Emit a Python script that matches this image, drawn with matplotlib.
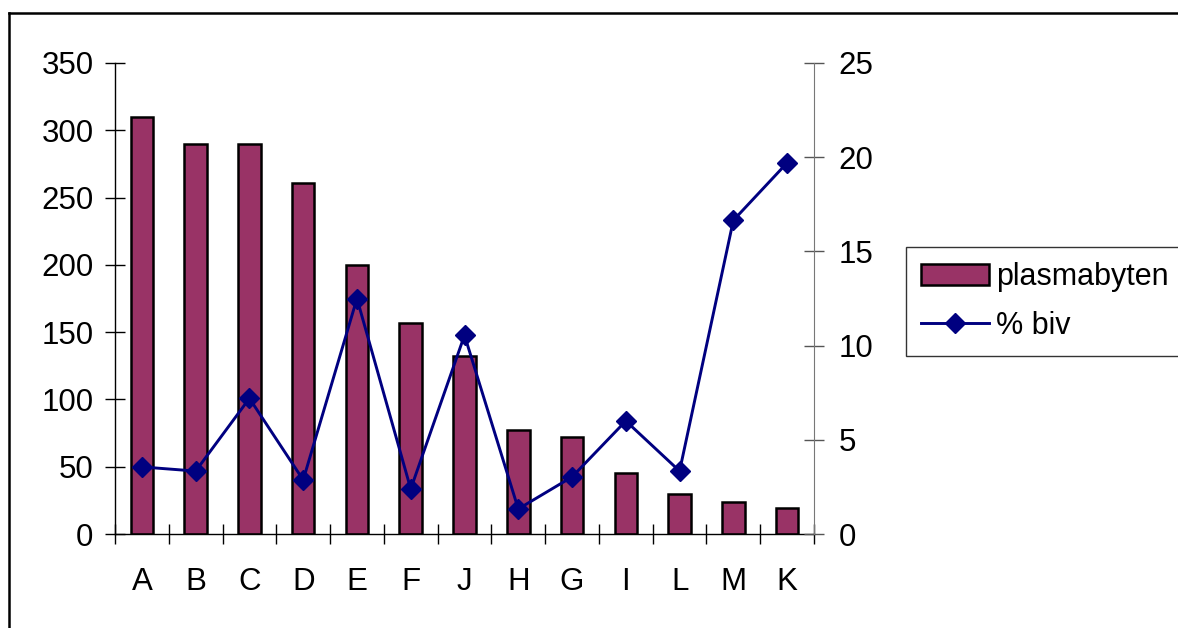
import numpy as np
import matplotlib.pyplot as plt
from matplotlib.lines import Line2D
from matplotlib.patches import Patch

plt.rcParams['font.family'] = ['Liberation Sans', 'DejaVu Sans']

# Data
categories = ['A', 'B', 'C', 'D', 'E', 'F', 'J', 'H', 'G', 'I', 'L', 'M', 'K']
plasmabyten = [310, 290, 290, 261, 200, 157, 132, 77, 72, 45, 30, 24, 19]
pct_biv = [3.56, 3.34, 7.2, 2.87, 12.5, 2.39, 10.55, 1.33, 3.03, 6.0, 3.34, 16.65, 19.7]

bar_color = '#993366'
line_color = '#000080'

fig = plt.figure(figsize=(11.78, 6.28), dpi=100)
ax = fig.add_axes([115 / 1178, 1 - 534 / 628, 699 / 1178, 471 / 628])
ax2 = ax.twinx()

x = np.arange(len(categories))
ax.bar(x, plasmabyten, width=0.42, color=bar_color, edgecolor='black', linewidth=1.8, zorder=2)
ax2.plot(x, pct_biv, color=line_color, linewidth=2.1, marker='D', markersize=10, zorder=3)

ax.set_xlim(-0.5, len(categories) - 0.5)
ax.set_ylim(0, 350)
ax2.set_ylim(0, 25)
ax.set_yticks(np.arange(0, 351, 50))
ax2.set_yticks(np.arange(0, 26, 5))

# category labels centered, tick marks between categories
ax.set_xticks(x)
ax.set_xticklabels(categories)
ax.set_xticks(np.arange(-0.5, len(categories), 1), minor=True)
ax.tick_params(axis='x', which='major', length=0, pad=24, labelsize=22.5)
ax.tick_params(axis='x', which='minor', direction='inout', length=14, width=1)
ax.tick_params(axis='y', direction='inout', length=15, width=1, pad=8, labelsize=22.5)
ax2.tick_params(axis='y', direction='inout', length=15, width=1, pad=10, labelsize=22.5,
                color='#555555')

for a in (ax, ax2):
    a.spines['top'].set_visible(False)
ax.spines['right'].set_visible(False)
ax2.spines['left'].set_visible(False)
ax2.spines['bottom'].set_visible(False)
ax2.spines['right'].set_color('#777777')
ax.spines['left'].set_linewidth(1)
ax.spines['bottom'].set_linewidth(1)
ax.set_zorder(ax2.get_zorder() - 1)
ax2.patch.set_visible(False)
ax.patch.set_visible(False)

handles = [
    Patch(facecolor=bar_color, edgecolor='black', linewidth=1.8, label='plasmabyten'),
    Line2D([0], [0], color=line_color, linewidth=2.1, marker='D', markersize=10, label='% biv'),
]
leg = fig.legend(handles=handles, loc='upper left', bbox_to_anchor=(906 / 1178, 1 - 247 / 628),
                 frameon=True, fancybox=False, fontsize=22, handlelength=2.2, handleheight=0.65,
                 handletextpad=0.25, borderpad=0.5, labelspacing=0.6, borderaxespad=0)
leg.get_frame().set_edgecolor('black')
leg.get_frame().set_linewidth(1)

# outer chart border (cut at right and bottom)
fig.add_artist(Line2D([9 / 1178, 9 / 1178], [-0.1, 1 - 13 / 628], color='black', linewidth=1.8,
                      transform=fig.transFigure))
fig.add_artist(Line2D([9 / 1178, 1.1], [1 - 13 / 628, 1 - 13 / 628], color='black', linewidth=1.8,
                      transform=fig.transFigure))

fig.savefig('out.png', dpi=100)
